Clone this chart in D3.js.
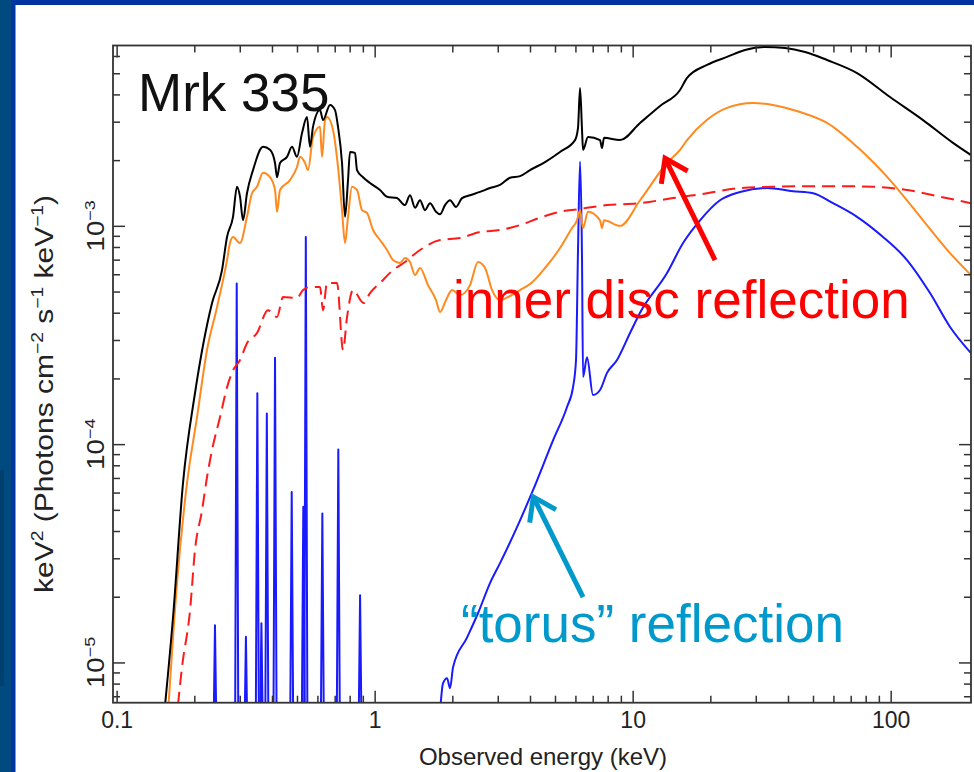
<!DOCTYPE html>
<html>
<head>
<meta charset="utf-8">
<script src="https://cdn.jsdelivr.net/npm/d3@7/dist/d3.min.js"></script>
<style>
  body { margin: 0; background: #fff; }
  svg { display: block; }
  text { font-family: "Liberation Sans", Arial, Helvetica, sans-serif; }
</style>
</head>
<body>
<svg id="chart" width="974" height="772"></svg>
<script>
// ---- Model spectra of Mrk 335: [observed energy (keV), keV^2 flux] ----
const totalModel = [
  [0.1527,5.73e-6],[0.1654,1.61e-5],[0.1808,6.63e-5],[0.2012,1.71e-4],[0.2343,4.43e-4],[0.2561,6.27e-4],
  [0.2678,8.89e-4],[0.2825,1.10e-3],[0.2927,1.51e-3],[0.3007,1.36e-3],[0.3089,1.06e-3],[0.3200,1.41e-3],
  [0.3377,1.80e-3],[0.3693,2.30e-3],[0.3930,2.23e-3],[0.4110,1.94e-3],[0.4184,1.67e-3],[0.4297,1.94e-3],
  [0.4574,2.07e-3],[0.4783,2.30e-3],[0.5001,2.07e-3],[0.5230,2.66e-3],[0.5467,3.15e-3],[0.5616,2.30e-3],
  [0.5768,2.84e-3],[0.6140,3.39e-3],[0.6308,3.05e-3],[0.6714,3.58e-3],[0.7021,3.39e-3],[0.7211,2.84e-3],
  [0.7473,1.94e-3],[0.7675,1.10e-3],[0.7884,1.62e-3],[0.8025,2.18e-3],[0.8392,2.16e-3],[0.8543,1.80e-3],
  [0.9013,1.67e-3],[0.9594,1.57e-3],[1.049,1.46e-3],[1.117,1.36e-3],[1.221,1.34e-3],[1.311,1.245e-3],
  [1.371,1.38e-3],[1.434,1.21e-3],[1.499,1.31e-3],[1.567,1.18e-3],[1.639,1.27e-3],[1.729,1.16e-3],
  [1.792,1.13e-3],[1.874,1.245e-3],[1.960,1.31e-3],[2.067,1.22e-3],[2.181,1.34e-3],[2.342,1.38e-3],
  [2.561,1.43e-3],[2.800,1.49e-3],[3.062,1.54e-3],[3.348,1.66e-3],[3.660,1.69e-3],[4.001,1.80e-3],
  [4.574,1.96e-3],[5.229,2.18e-3],[5.978,2.47e-3],[6.140,2.81e-3],[6.252,4.28e-3],[6.364,2.75e-3],
  [6.422,2.23e-3],[6.714,2.55e-3],[7.473,2.47e-3],[7.607,2.27e-3],[7.745,2.53e-3],[8.933,2.47e-3],
  [10.68,2.96e-3],[12.77,3.54e-3],[15.26,4.19e-3],[16.25,4.76e-3],[19.42,5.46e-3],[23.21,5.94e-3],
  [27.26,6.39e-3],[32.58,6.60e-3],[38.96,6.53e-3],[46.57,6.26e-3],[56.66,5.75e-3],[74.07,5.01e-3],
  [99.4,3.89e-3],[133.5,3.05e-3],[174.4,2.40e-3],[204.8,2.11e-3]
];

const discReflection = [
  [0.1582,5.91e-6],[0.1714,2.31e-5],[0.1874,6.63e-5],[0.2049,1.33e-4],[0.2240,2.70e-4],[0.2449,4.24e-4],
  [0.2678,6.97e-4],[0.2750,8.34e-4],[0.2825,8.89e-4],[0.3007,8.34e-4],[0.3200,1.10e-3],[0.3347,1.41e-3],
  [0.3499,1.51e-3],[0.3693,1.75e-3],[0.3930,1.67e-3],[0.4110,1.46e-3],[0.4184,1.16e-3],[0.4297,1.46e-3],
  [0.4697,1.62e-3],[0.5001,1.86e-3],[0.5139,2.07e-3],[0.5373,1.94e-3],[0.5518,1.80e-3],[0.5768,2.55e-3],
  [0.6140,2.84e-3],[0.6252,2.07e-3],[0.6421,3.05e-3],[0.6537,3.15e-3],[0.6897,2.75e-3],[0.7211,1.86e-3],
  [0.7473,1.18e-3],[0.7675,8.34e-4],[0.7884,1.10e-3],[0.8170,1.51e-3],[0.8543,1.46e-3],[0.8934,1.18e-3],
  [0.9341,1.145e-3],[0.9856,9.57e-4],[1.049,8.61e-4],[1.117,7.75e-4],[1.178,6.97e-4],[1.254,6.75e-4],
  [1.311,7.12e-4],[1.371,6.83e-4],[1.434,5.95e-4],[1.499,6.41e-4],[1.610,5.35e-4],[1.729,4.57e-4],
  [1.792,4.03e-4],[1.891,4.57e-4],[1.994,5.08e-4],[2.142,4.82e-4],[2.342,5.35e-4],[2.515,6.83e-4],
  [2.678,6.41e-4],[2.851,5.08e-4],[3.062,4.57e-4],[3.348,4.77e-4],[3.660,5.08e-4],[4.001,5.41e-4],
  [4.574,6.41e-4],[5.229,7.91e-4],[5.821,9.77e-4],[6.084,1.06e-3],[6.252,1.18e-3],[6.422,9.77e-4],
  [6.714,1.16e-3],[7.473,1.06e-3],[7.607,9.77e-4],[7.745,1.06e-3],[8.933,1.0e-3],[10.68,1.31e-3],
  [13.59,1.94e-3],[15.26,2.23e-3],[16.25,2.47e-3],[19.42,3.06e-3],[23.21,3.47e-3],[29.28,3.65e-3],
  [34.99,3.58e-3],[44.54,3.32e-3],[56.66,2.96e-3],[74.07,2.30e-3],[99.4,1.62e-3],[133.5,1.06e-3],
  [169.9,7.50e-4],[204.8,5.95e-4]
];

const powerLaw = [
  [0.1729,6.4e-6],[0.1792,9.51e-6],[0.1925,1.73e-5],[0.2012,3.27e-5],[0.2143,4.98e-5],[0.2240,7.06e-5],
  [0.2343,9.39e-5],[0.2516,1.33e-4],[0.2678,1.82e-4],[0.2825,2.18e-4],[0.3007,2.43e-4],[0.3200,2.90e-4],
  [0.3499,3.23e-4],[0.3861,4.11e-4],[0.4184,3.82e-4],[0.4415,4.72e-4],[0.5001,4.67e-4],[0.5277,5.08e-4],
  [0.5616,5.24e-4],[0.6140,5.24e-4],[0.6308,4.11e-4],[0.6537,5.47e-4],[0.7147,5.47e-4],[0.7541,2.70e-4],
  [0.7816,3.82e-4],[0.8243,5.08e-4],[0.906,4.43e-4],[0.9594,4.92e-4],[1.049,5.47e-4],[1.178,6.27e-4],
  [1.311,6.83e-4],[1.499,7.75e-4],[1.792,8.61e-4],[2.142,8.79e-4],[2.561,9.37e-4],[3.062,9.57e-4],
  [3.660,1.008e-3],[4.375,1.09e-3],[5.229,1.16e-3],[6.084,1.19e-3],[7.955,1.245e-3],[10.68,1.27e-3],
  [14.33,1.34e-3],[19.42,1.41e-3],[26.07,1.49e-3],[34.99,1.51e-3],[47.41,1.52e-3],[63.66,1.52e-3],
  [85.42,1.51e-3],[115.7,1.46e-3],[155.4,1.36e-3],[204.8,1.27e-3]
];

const torusContinuum = [
  [1.792,5.91e-6],[1.841,8.03e-6],[1.908,8.46e-6],[1.960,7.62e-6],[2.013,9.51e-6],[2.280,1.30e-5],
  [2.515,1.68e-5],[2.800,2.31e-5],[3.062,2.85e-5],[3.563,4.17e-5],[4.110,6.15e-5],[4.913,1.04e-4],
  [5.567,1.48e-4],[5.871,1.82e-4],[6.031,2.43e-4],[6.140,7.75e-4],[6.252,1.97e-3],[6.364,6.97e-4],
  [6.422,2.03e-4],[6.654,2.50e-4],[7.020,1.68e-4],[7.473,1.77e-4],[7.955,2.12e-4],[8.698,2.43e-4],
  [9.768,3.23e-4],[10.68,4.00e-4],[13.59,6.08e-4],[15.68,8.34e-4],[18.24,1.06e-3],[21.80,1.31e-3],
  [26.07,1.43e-3],[33.17,1.49e-3],[41.84,1.44e-3],[50.02,1.41e-3],[59.79,1.27e-3],[74.07,1.10e-3],
  [93.42,8.89e-4],[115.7,6.97e-4],[142.1,4.92e-4],[169.9,3.44e-4],[204.8,2.61e-4]
];

// Soft X-ray emission lines of the torus component
const torusLineEnergy = [0.2405, 0.292, 0.317, 0.351, 0.364, 0.382, 0.411, 0.477, 0.529, 0.541, 0.627, 0.723, 0.878];
const torusLinePeak   = [1.48e-5, 5.45e-4, 1.31e-5, 1.71e-4, 1.51e-5, 1.38e-4, 2.49e-4, 6.04e-5, 5.16e-5, 8.89e-4, 4.81e-5, 9.46e-5, 2.03e-5];

// Axis ticks
const xDomain = [0.0968, 204.8];
const yDomain = [6.54e-6, 6.70e-3];
const xMajorTicks = [0.1, 1, 10, 100];
const xTickLabels = ["0.1", "1", "10", "100"];
const xMinorTicks = [0.2,0.3,0.4,0.5,0.6,0.7,0.8,0.9, 2,3,4,5,6,7,8,9, 20,30,40,50,60,70,80,90];
const yMajorTicks = [1e-5, 1e-4, 1e-3];
const yTickExponents = ["−5", "−4", "−3"];
const yMinorTicks = [7e-6,8e-6,9e-6, 2e-5,3e-5,4e-5,5e-5,6e-5,7e-5,8e-5,9e-5,
                     2e-4,3e-4,4e-4,5e-4,6e-4,7e-4,8e-4,9e-4, 2e-3,3e-3,4e-3,5e-3,6e-3];

const svg = d3.select("#chart");
const W = 974, H = 772;
const plot = { left: 113, right: 971, top: 45.5, bottom: 702.7 };

// slide frame
svg.append("rect").attr("width", W).attr("height", H).attr("fill", "#ffffff");
svg.append("rect").attr("x", 0).attr("y", 0).attr("width", W).attr("height", 5).attr("fill", "#0033a0");
svg.append("rect").attr("x", 0).attr("y", 0).attr("width", 11).attr("height", H).attr("fill", "#004a80");
svg.append("rect").attr("x", 11).attr("y", 0).attr("width", 4.5).attr("height", H).attr("fill", "#0036a0");
svg.append("rect").attr("x", 0).attr("y", 470).attr("width", 4).attr("height", 216).attr("fill", "#00406f");

const x = d3.scaleLog().domain(xDomain).range([plot.left, plot.right]);
const y = d3.scaleLog().domain(yDomain).range([plot.bottom, plot.top]);

svg.append("defs").append("clipPath").attr("id", "plotClip")
  .append("rect").attr("x", plot.left).attr("y", plot.top)
  .attr("width", plot.right - plot.left).attr("height", plot.bottom - plot.top);

const curves = svg.append("g").attr("clip-path", "url(#plotClip)");
const line = d3.line().x(d => x(d[0])).y(d => y(d[1]));
const smooth = d3.line().x(d => x(d[0])).y(d => y(d[1])).curve(d3.curveMonotoneX);

// torus emission lines (narrow profiles)
const lineFloor = 4e-6, lineWidth = 0.015;
torusLineEnergy.forEach((e, i) => {
  const pts = [[e / (1 + lineWidth), lineFloor], [e, torusLinePeak[i]], [e * (1 + lineWidth), lineFloor]];
  curves.append("path").attr("d", line(pts))
    .attr("fill", "none").attr("stroke", "#1a1aff").attr("stroke-width", 2).attr("stroke-linejoin", "round");
});
curves.append("path").attr("d", smooth(torusContinuum))
  .attr("fill", "none").attr("stroke", "#1a1aff").attr("stroke-width", 2).attr("stroke-linejoin", "round");

curves.append("path").attr("d", smooth(powerLaw))
  .attr("fill", "none").attr("stroke", "#ff1a1a").attr("stroke-width", 2).attr("stroke-dasharray", "13,7");
curves.append("path").attr("d", smooth(discReflection))
  .attr("fill", "none").attr("stroke", "#ff8a1f").attr("stroke-width", 2).attr("stroke-linejoin", "round");
curves.append("path").attr("d", smooth(totalModel))
  .attr("fill", "none").attr("stroke", "#000").attr("stroke-width", 2).attr("stroke-linejoin", "round");

// axes with inward ticks on all four sides
const axisColor = "#333";
function styleAxis(g) {
  g.select(".domain").remove();
  g.selectAll(".tick line").attr("stroke", axisColor).attr("stroke-width", 1.5);
  g.selectAll(".tick text").attr("fill", "#222").style("font-size", "23px")
    .style("font-family", "'Liberation Sans', Arial, sans-serif");
}
svg.append("g").attr("transform", `translate(0,${plot.bottom})`)
  .call(d3.axisBottom(x).tickValues(xMajorTicks).tickSize(-12).tickPadding(9)
    .tickFormat((d, i) => xTickLabels[i])).call(styleAxis);
svg.append("g").attr("transform", `translate(0,${plot.bottom})`)
  .call(d3.axisBottom(x).tickValues(xMinorTicks).tickSize(-7).tickFormat("")).call(styleAxis);
svg.append("g").attr("transform", `translate(0,${plot.top})`)
  .call(d3.axisTop(x).tickValues(xMajorTicks).tickSize(-12).tickFormat("")).call(styleAxis);
svg.append("g").attr("transform", `translate(0,${plot.top})`)
  .call(d3.axisTop(x).tickValues(xMinorTicks).tickSize(-7).tickFormat("")).call(styleAxis);
svg.append("g").attr("transform", `translate(${plot.left},0)`)
  .call(d3.axisLeft(y).tickValues(yMajorTicks).tickSize(-12).tickFormat("")).call(styleAxis);
svg.append("g").attr("transform", `translate(${plot.left},0)`)
  .call(d3.axisLeft(y).tickValues(yMinorTicks).tickSize(-7).tickFormat("")).call(styleAxis);
svg.append("g").attr("transform", `translate(${plot.right},0)`)
  .call(d3.axisRight(y).tickValues(yMajorTicks).tickSize(-12).tickFormat("")).call(styleAxis);
svg.append("g").attr("transform", `translate(${plot.right},0)`)
  .call(d3.axisRight(y).tickValues(yMinorTicks).tickSize(-7).tickFormat("")).call(styleAxis);

svg.append("rect").attr("x", plot.left).attr("y", plot.top)
  .attr("width", plot.right - plot.left).attr("height", plot.bottom - plot.top)
  .attr("fill", "none").attr("stroke", axisColor).attr("stroke-width", 1.8);

// rotated y tick labels: 10^n (stretched along the axis like the rest of the vertical text)
yMajorTicks.forEach((v, i) => {
  const t = svg.append("text")
    .attr("transform", `translate(104,${y(v)}) rotate(-90) scale(1.2,1)`)
    .attr("text-anchor", "middle").attr("fill", "#222").style("font-size", "23px");
  t.append("tspan").text("10");
  t.append("tspan").attr("dy", -9).style("font-size", "15px").text(yTickExponents[i]);
});

// axis titles
svg.append("text").attr("x", 543).attr("y", 765).attr("text-anchor", "middle")
  .attr("fill", "#222").style("font-size", "24px").text("Observed energy (keV)");

const yt = svg.append("text").attr("transform", "translate(53,394) rotate(-90) scale(1.2,1)")
  .attr("text-anchor", "middle").attr("fill", "#222").style("font-size", "25px");
let raised = false;
function part(s) {
  const t = yt.append("tspan").text(s);
  if (raised) { t.attr("dy", 10); raised = false; }
}
function sup(s) {
  yt.append("tspan").attr("dy", -10).style("font-size", "16px").text(s);
  raised = true;
}
part("keV"); sup("2"); part(" (Photons cm"); sup("−2"); part(" s"); sup("−1"); part(" keV"); sup("−1"); part(")");

// annotations
svg.append("text").attr("x", 138).attr("y", 111).attr("fill", "#111")
  .style("font-size", "53px").text("Mrk 335");
svg.append("text").attr("x", 453).attr("y", 318).attr("fill", "#ff0000")
  .style("font-size", "53px").text("inner disc reflection");
svg.append("text").attr("x", 461).attr("y", 642).attr("fill", "#0099cc")
  .style("font-size", "53px").text("\u201Ctorus\u201D reflection");

// arrows pointing at the model components
const arrowTail = { disc: [20.85, 6.97e-4], torus: [6.422, 1.99e-5] };
const arrowTip  = { disc: [13.35, 2.04e-3], torus: [4.12, 5.73e-5] };
function arrow(key, color) {
  const [x1, y1] = [x(arrowTail[key][0]), y(arrowTail[key][1])];
  const [x2, y2] = [x(arrowTip[key][0]), y(arrowTip[key][1])];
  const ang = Math.atan2(y2 - y1, x2 - x1);
  const len = 26, spread = 0.6;
  const g = svg.append("g").attr("stroke", color).attr("stroke-width", 5)
    .attr("stroke-linecap", "butt").attr("fill", "none");
  g.append("line").attr("x1", x1).attr("y1", y1).attr("x2", x2 - 2 * Math.cos(ang)).attr("y2", y2 - 2 * Math.sin(ang));
  g.append("path").attr("stroke-linejoin", "miter").attr("d",
    `M${x2 - len * Math.cos(ang - spread)},${y2 - len * Math.sin(ang - spread)}` +
    `L${x2},${y2}` +
    `L${x2 - len * Math.cos(ang + spread)},${y2 - len * Math.sin(ang + spread)}`);
}
arrow("disc", "#ff0000");
arrow("torus", "#0099cc");
</script>
</body>
</html>
